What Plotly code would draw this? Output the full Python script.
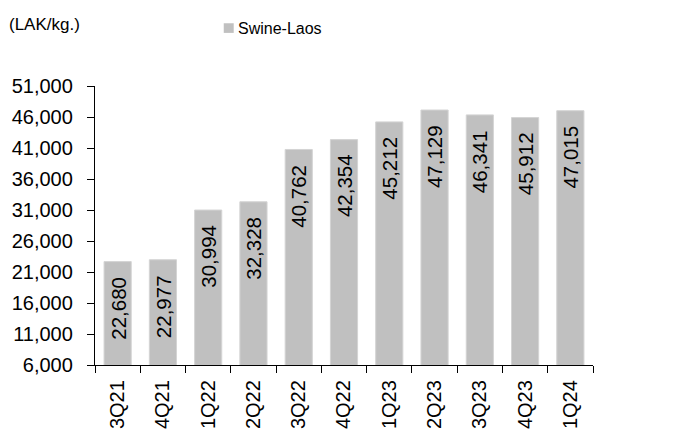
import plotly.graph_objects as go

categories = ["3Q21", "4Q21", "1Q22", "2Q22", "3Q22", "4Q22", "1Q23", "2Q23", "3Q23", "4Q23", "1Q24"]
values = [22680, 22977, 30994, 32328, 40762, 42354, 45212, 47129, 46341, 45912, 47015]
y_ticks = [6000, 11000, 16000, 21000, 26000, 31000, 36000, 41000, 46000, 51000]
series_name = "Swine-Laos"
unit_label = "(LAK/kg.)"

FONT = "Liberation Sans, Arial, sans-serif"
W, H = 673, 441
L, R, T, B = 94, 80, 86, 66
PW, PH = W - L - R, H - T - B
BAR_COLOR = "#C0C0C0"

fig = go.Figure()
fig.add_trace(go.Bar(
    x=categories, y=values, name=series_name,
    marker=dict(color=BAR_COLOR, line=dict(color="#D4D4D4", width=1)),
    showlegend=False,
))

# value labels rotated inside the top of each bar
for c, v in zip(categories, values):
    fig.add_annotation(
        x=c, y=v, xref="x", yref="y", text=f"{v:,}", textangle=-90,
        xanchor="center", yanchor="top", yshift=-13, showarrow=False,
        font=dict(family=FONT, size=20.5, color="#000000"),
    )

fig.update_layout(
    width=W, height=H,
    margin=dict(l=L, r=R, t=T, b=B, pad=0),
    paper_bgcolor="white", plot_bgcolor="white",
    font=dict(family=FONT, size=17, color="#000000"),
    bargap=0.4,
    showlegend=False,
)
fig.update_xaxes(
    type="category", tickangle=-90, ticks="outside", ticklen=7, tickwidth=1.3,
    tickcolor="#000", tickson="boundaries", showline=True, linecolor="#000",
    linewidth=1.3, showgrid=False, tickfont=dict(family=FONT, size=20),
    ticklabelstandoff=6,
)
fig.update_yaxes(
    range=[6000, 51000], tickvals=y_ticks, ticktext=[f"{v:,}" for v in y_ticks],
    ticks="outside", ticklen=7, tickwidth=1.3, tickcolor="#000",
    showline=True, linecolor="#000", linewidth=1.3, showgrid=False,
    zeroline=False, tickfont=dict(family=FONT, size=20), ticklabelstandoff=10,
)
# unit label
fig.add_annotation(
    text=unit_label, xref="paper", yref="paper",
    x=(6 - L) / PW, y=1 + (T - 22) / PH, xanchor="left", yanchor="middle",
    showarrow=False, font=dict(family=FONT, size=17, color="#000000"),
)
# legend (square marker + label)
sq_x0, sq_x1 = 223, 233
sq_y0, sq_y1 = 21, 31
fig.add_shape(
    type="rect", xref="paper", yref="paper",
    x0=(sq_x0 - L) / PW, x1=(sq_x1 - L) / PW,
    y0=1 + (T - sq_y1) / PH, y1=1 + (T - sq_y0) / PH,
    fillcolor=BAR_COLOR, line=dict(width=0),
)
fig.add_annotation(
    text=series_name, xref="paper", yref="paper",
    x=(235 - L) / PW, y=1 + (T - 26) / PH, xanchor="left", yanchor="middle",
    showarrow=False, font=dict(family=FONT, size=16, color="#000000"),
)
fig.write_html("out.html")
